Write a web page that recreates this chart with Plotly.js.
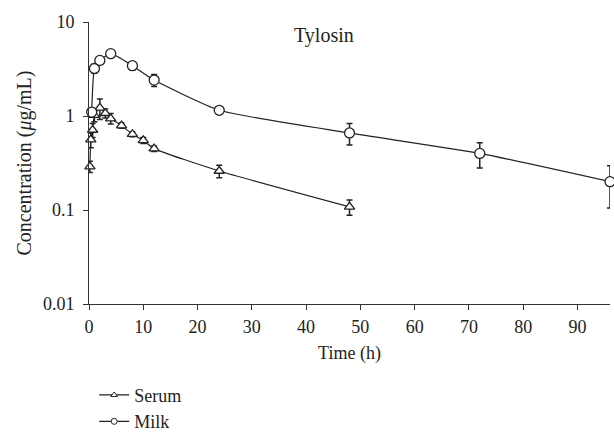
<!DOCTYPE html>
<html>
<head>
<meta charset="utf-8">
<script src="https://cdn.plot.ly/plotly-3.0.1.min.js"></script>
<style>html,body{margin:0;padding:0;background:#fff;}</style>
</head>
<body>
<div id="chart" style="width:614px;height:434px;"></div>
<script>
const serumTime = [0.17, 0.33, 0.67, 1, 2, 3, 4, 6, 8, 10, 12, 24, 48];
const serumConc = [0.29, 0.56, 0.71, 1.02, 1.22, 1.07, 0.94, 0.79, 0.64, 0.55, 0.45, 0.26, 0.108];
const serumErr  = [0.04, 0.1, 0.12, 0.15, 0.3, 0.12, 0.12, 0.05, 0.04, 0.04, 0.03, 0.04, 0.02];
const milkTime = [0.5, 1, 2, 4, 8, 12, 24, 48, 72, 96];
const milkConc = [1.1, 3.2, 3.9, 4.6, 3.43, 2.41, 1.15, 0.66, 0.40, 0.20];
const milkErr  = [0.1, 0.35, 0.1, 0.15, 0.35, 0.35, 0.08, 0.17, 0.12, 0.095];
const seriesNames = ['Serum', 'Milk'];
const xTicks = [0, 10, 20, 30, 40, 50, 60, 70, 80, 90];
const yTicks = [0.01, 0.1, 1, 10];
const yTickText = ['0.01', '0.1', '1', '10'];

const font = "Liberation Serif, Times New Roman, serif";
const ink = '#222';
function dataTrace(name, x, y, err, symbol, size) {
  return {
    name: name, x: x, y: y, type: 'scatter', mode: 'lines+markers', showlegend: false,
    line: {color: ink, width: 1.2, shape: 'spline', smoothing: 0.5},
    marker: {symbol: symbol, size: size, color: '#fff', line: {width: 1.3, color: ink}},
    error_y: {type: 'data', array: err, visible: true, color: ink, thickness: 1.5, width: 3},
    cliponaxis: false
  };
}
function legendTrace(name, symbol) {
  return {
    name: name, x: [null], y: [null], type: 'scatter', mode: 'lines+markers', showlegend: true,
    line: {color: ink, width: 1.2},
    marker: {symbol: symbol, size: 6, color: '#fff', line: {width: 1, color: ink}}
  };
}
const traces = [
  dataTrace(seriesNames[0], serumTime, serumConc, serumErr, 'triangle-up', 9),
  dataTrace(seriesNames[1], milkTime, milkConc, milkErr, 'circle', 10),
  legendTrace(seriesNames[0], 'triangle-up'),
  legendTrace(seriesNames[1], 'circle')
];
const layout = {
  width: 614, height: 434,
  margin: {l: 89, r: 4, t: 22, b: 130, autoexpand: false},
  paper_bgcolor: '#fff', plot_bgcolor: '#fff',
  font: {family: font, size: 18, color: ink},
  showlegend: true,
  legend: {x: 0.01, xanchor: 'left', y: -0.258, yanchor: 'top',
           font: {family: font, size: 18},
           tracegroupgap: 0, bgcolor: 'rgba(0,0,0,0)', borderwidth: 0},
  xaxis: {
    range: [0, 96], tickvals: xTicks, showgrid: false, zeroline: false,
    showline: true, linecolor: '#333', linewidth: 1, ticks: 'outside', ticklen: 5, tickcolor: '#333',
    tickfont: {family: font, size: 18}, ticklabelstandoff: 1,
    title: {text: 'Time (h)', font: {family: font, size: 18}, standoff: 10}
  },
  yaxis: {
    type: 'log', range: [-2, 1], tickvals: yTicks, ticktext: yTickText,
    showgrid: false, zeroline: false,
    showline: true, linecolor: '#333', linewidth: 1, ticks: 'outside', ticklen: 5, tickcolor: '#333',
    tickfont: {family: font, size: 18}, ticklabelstandoff: 5,
    title: {text: 'Concentration (<i>μ</i>g/mL)', font: {family: font, size: 20}, standoff: 5}
  },
  annotations: [{
    x: 43.3, y: Math.log10(7.1), xref: 'x', yref: 'y', text: 'Tylosin', showarrow: false,
    font: {family: font, size: 20}
  }]
};
Plotly.newPlot('chart', traces, layout, {displayModeBar: false, staticPlot: true});
</script>
</body>
</html>
